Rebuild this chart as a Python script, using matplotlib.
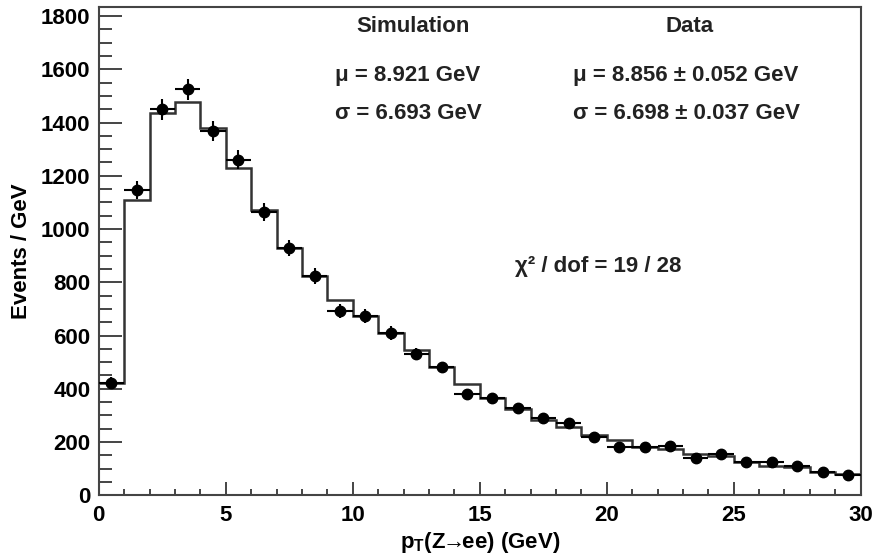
import numpy as np
import matplotlib
matplotlib.use("Agg")
import matplotlib.pyplot as plt
from matplotlib.ticker import MultipleLocator

plt.rcParams['font.family'] = ['Liberation Sans', 'DejaVu Sans']
plt.rcParams['font.weight'] = 'bold'
plt.rcParams['mathtext.fontset'] = 'custom'
plt.rcParams['mathtext.rm'] = 'Liberation Sans:bold'
plt.rcParams['mathtext.bf'] = 'Liberation Sans:bold'
plt.rcParams['mathtext.it'] = 'Liberation Sans:bold'

bin_edges = list(range(0, 31))
sim_counts = [423, 1108, 1434, 1477, 1380, 1229, 1071, 929, 824, 734,
              674, 609, 545, 480, 418, 364, 323, 283, 255, 226,
              208, 180, 173, 155, 147, 126, 111, 107, 86, 80]
data_counts = [423, 1148, 1449, 1525, 1368, 1261, 1063, 929, 823, 691,
               674, 609, 530, 480, 379, 364, 327, 291, 270, 220,
               182, 180, 184, 141, 154, 126, 124, 110, 86, 77]
data_errors = [21, 34, 38, 39, 37, 36, 33, 30, 29, 26,
               26, 25, 23, 22, 19, 19, 18, 17, 16, 15,
               13, 13, 14, 12, 12, 11, 11, 10, 9, 9]

edges = np.array(bin_edges, dtype=float)
centers = 0.5 * (edges[:-1] + edges[1:])
halfw = 0.5 * (edges[1:] - edges[:-1])

fig = plt.figure(figsize=(8.73, 5.59), dpi=100)
ax = fig.add_axes([0.1131, 0.1140, 0.8728, 0.8740])

ax.stairs(sim_counts, edges, color='#333333', linewidth=1.8, baseline=None)
ax.errorbar(centers, data_counts, yerr=data_errors, xerr=halfw, fmt='o',
            color='black', markersize=7.5, elinewidth=1.5, capsize=0, zorder=3)

ax.set_xlim(0, 30)
ax.set_ylim(0, 1835)
ax.xaxis.set_major_locator(MultipleLocator(5))
ax.xaxis.set_minor_locator(MultipleLocator(1))
ax.yaxis.set_major_locator(MultipleLocator(200))
ax.yaxis.set_minor_locator(MultipleLocator(50))

for s in ax.spines.values():
    s.set_linewidth(1.5)
    s.set_color('#444444')
ax.tick_params(axis='both', which='both', direction='in', color='#444444',
               width=1.4, labelsize=16, top=False, right=False)
ax.tick_params(axis='y', which='major', length=16.5, pad=6)
ax.tick_params(axis='y', which='minor', length=9.4)
ax.tick_params(axis='x', which='major', length=9.4, pad=7)
ax.tick_params(axis='x', which='minor', length=4.5)

ax.set_ylabel('Events / GeV', fontsize=16, fontweight='bold')
ax.yaxis.set_label_coords(-0.088, 0.5)
ax.set_xlabel('p$_{\\mathbf{T}}$(Z$\\!\\!\\rightarrow\\!\\!$ee) (GeV)', fontsize=16, fontweight='bold')
ax.xaxis.set_label_coords(0.5, -0.072)

tk = dict(fontsize=16, fontweight='bold', color='#222222')
ax.text(12.37, 1739, 'Simulation', ha='center', va='baseline', **tk)
ax.text(23.28, 1739, 'Data', ha='center', va='baseline', **tk)
ax.text(9.30, 1557, '\u03bc = 8.921 GeV', ha='left', va='baseline', **tk)
ax.text(9.30, 1412, '\u03c3 = 6.693 GeV', ha='left', va='baseline', **tk)
ax.text(18.67, 1557, '\u03bc = 8.856 \u00b1 0.052 GeV', ha='left', va='baseline', **tk)
ax.text(18.67, 1412, '\u03c3 = 6.698 \u00b1 0.037 GeV', ha='left', va='baseline', **tk)
ax.text(16.39, 839, '\u03c7\u00b2 / dof = 19 / 28', ha='left', va='baseline', **tk)

fig.savefig('out.png', dpi=100)
